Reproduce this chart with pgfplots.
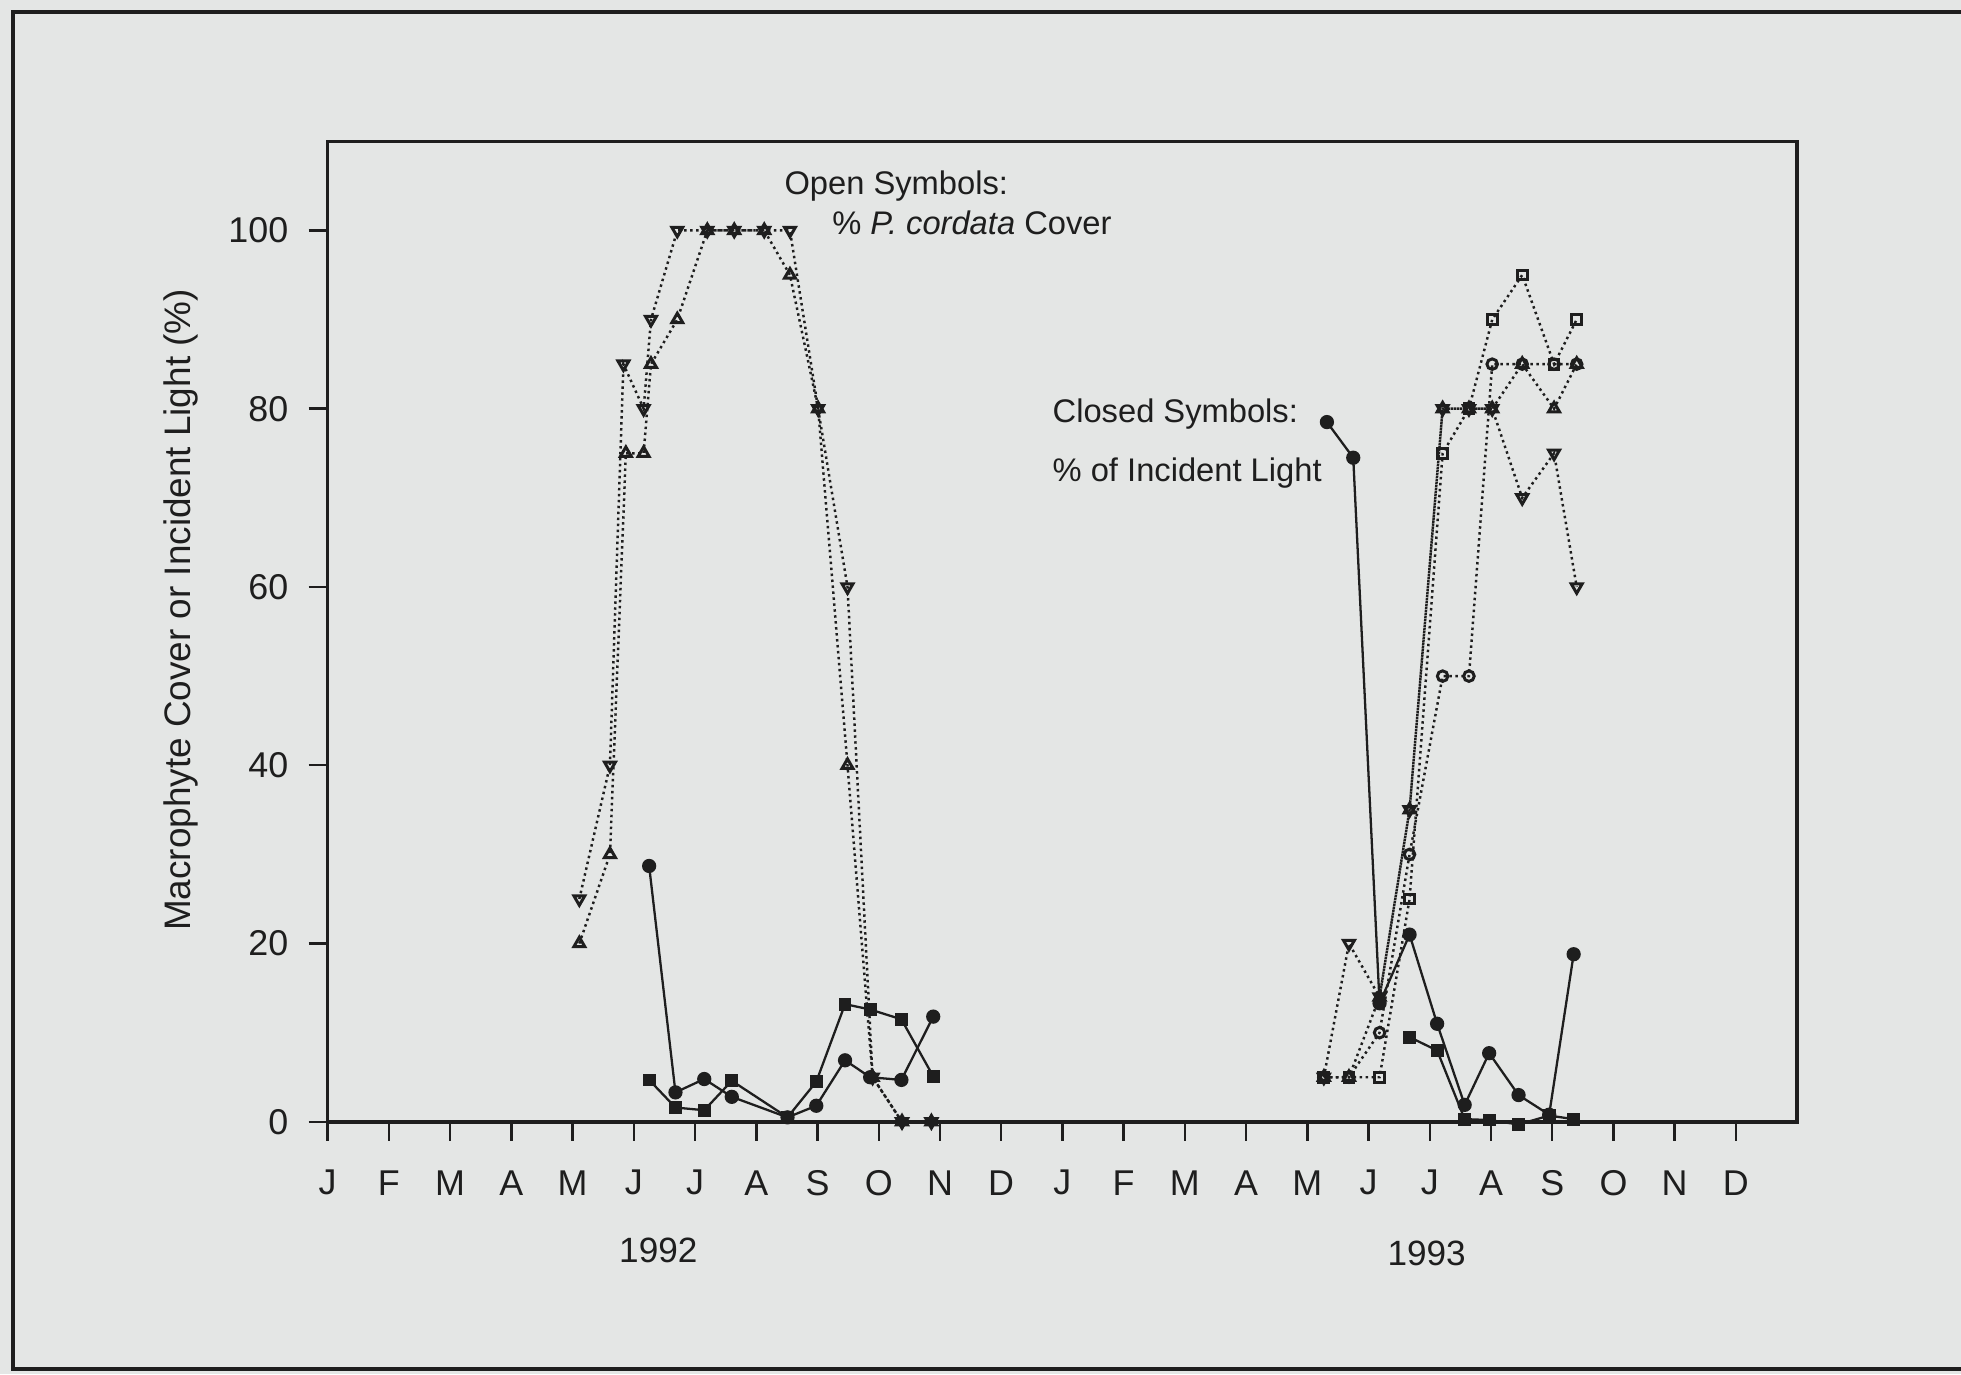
\documentclass[border=0pt]{standalone}
\usepackage{fontspec}
\setmainfont{Liberation Sans}
\usepackage{pgfplots}
\pgfplotsset{compat=1.18}
\usepackage{pgfplotstable}
\definecolor{bg}{RGB}{228,230,229}
\definecolor{ink}{RGB}{30,30,30}

% 1992 open symbols (% P. cordata cover)
\pgfplotstableread{
x y
4.11 25
4.61 40
4.83 85
5.16 80
5.28 90
5.71 100
6.20 100
6.64 100
7.13 100
7.55 100
8.01 80
8.49 60
8.90 5
9.38 0
9.86 0
}\downA
\pgfplotstableread{
x y
4.11 20
4.61 30
4.87 75
5.16 75
5.28 85
5.71 90
6.20 100
6.64 100
7.13 100
7.55 95
8.01 80
8.49 40
8.90 5
9.38 0
9.86 0
}\upA
% 1992 closed symbols (% incident light)
\pgfplotstableread{
x y
5.25 28.7
5.68 3.3
6.15 4.8
6.60 2.8
7.51 0.5
7.98 1.8
8.45 6.9
8.86 5.0
9.37 4.7
9.89 11.8
}\circA
\pgfplotstableread{
x y
5.25 4.7
5.68 1.6
6.15 1.3
6.60 4.6
7.51 0.5
7.98 4.5
8.45 13.2
8.86 12.6
9.37 11.5
9.89 5.1
}\sqA
% 1993 open symbols
\pgfplotstableread{
x y
16.27 5
16.68 5
17.18 5
17.67 25
18.21 75
18.64 80
19.02 90
19.51 95
20.03 85
20.40 90
}\sqOB
\pgfplotstableread{
x y
16.27 5
16.68 5
17.18 10
17.67 30
18.21 50
18.64 50
19.02 85
19.51 85
20.03 85
20.40 85
}\circOB
\pgfplotstableread{
x y
16.27 5
16.68 5
17.18 14
17.67 35
18.21 80
18.64 80
19.02 80
19.51 85
20.03 80
20.40 85
}\upB
\pgfplotstableread{
x y
16.27 5
16.68 20
17.18 14
17.67 35
18.21 80
18.64 80
19.02 80
19.51 70
20.03 75
20.40 60
}\downB
% 1993 closed symbols
\pgfplotstableread{
x y
16.32 78.5
16.75 74.5
17.18 13.3
17.67 21.0
18.12 11.0
18.57 1.9
18.97 7.7
19.45 3.0
19.95 0.8
20.35 18.8
}\circB
\pgfplotstableread{
x y
17.67 9.5
18.12 8.0
18.57 0.3
18.97 0.2
19.45 -0.3
19.95 0.7
20.35 0.3
}\sqB

\begin{document}
\begin{tikzpicture}
\useasboundingbox (0,0) rectangle (19.61cm,13.74cm);
\fill[bg] (0,0) rectangle (19.61cm,13.74cm);
\draw[ink,line width=1.1pt] (19.61cm,13.62cm) -- (0.13cm,13.62cm) -- (0.13cm,0.05cm) -- (19.61cm,0.05cm);
\begin{axis}[
  at={(3.277cm,2.522cm)}, anchor=south west,
  width=14.694cm, height=9.805cm, scale only axis,
  xmin=0, xmax=24, ymin=0, ymax=110,
  clip=false,
  axis line style={ink,line width=1pt},
  xtick={0,...,23},
  xticklabels={J,F,M,A,M,J,J,A,S,O,N,D,J,F,M,A,M,J,J,A,S,O,N,D},
  ytick={0,20,40,60,80,100},
  xtick pos=left, ytick pos=left,
  tick align=outside,
  major tick length=0.19cm,
  tick style={ink,line width=0.7pt},
  /pgf/number format/assume math mode=true,
  tick label style={font=\fontsize{10.2}{12}\selectfont, text=ink},
  xticklabel style={anchor=center, yshift=-0.42cm},
  yticklabel style={anchor=east, xshift=-0.08cm},
  ylabel={Macrophyte Cover or Incident Light (\%)},
  ylabel style={at={(axis description cs:-0.100,0.522)}, anchor=center, font=\fontsize{10.5}{12}\selectfont, text=ink},
  openline/.style={ink, densely dotted, line width=0.7pt},
]
% open symbols, dotted
\addplot[openline, mark=triangle, mark size=1.8pt, mark options={solid, rotate=180, fill=bg, line width=0.85pt}] table[x=x,y=y]{\downA};
\addplot[openline, mark=triangle, mark size=1.8pt, mark options={solid, fill=bg, line width=0.85pt}] table[x=x,y=y]{\upA};
\addplot[openline, mark=square, mark size=1.4pt, mark options={solid, fill=bg, line width=0.85pt}] table[x=x,y=y]{\sqOB};
\addplot[openline, mark=o, mark size=1.5pt, mark options={solid, fill=bg, line width=0.85pt}] table[x=x,y=y]{\circOB};
\addplot[openline, mark=triangle, mark size=1.8pt, mark options={solid, fill=bg, line width=0.85pt}] table[x=x,y=y]{\upB};
\addplot[openline, mark=triangle, mark size=1.8pt, mark options={solid, rotate=180, fill=bg, line width=0.85pt}] table[x=x,y=y]{\downB};
% closed symbols, solid
\addplot[ink, line width=0.65pt, mark=*, mark size=1.7pt, mark options={fill=ink}] table[x=x,y=y]{\circA};
\addplot[ink, line width=0.65pt, mark=square*, mark size=1.5pt, mark options={fill=ink}] table[x=x,y=y]{\sqA};
\addplot[ink, line width=0.65pt, mark=*, mark size=1.7pt, mark options={fill=ink}] table[x=x,y=y]{\circB};
\addplot[ink, line width=0.65pt, mark=square*, mark size=1.5pt, mark options={fill=ink}] table[x=x,y=y]{\sqB};
% annotations
\node[anchor=west, text=ink, font=\fontsize{9.3}{11}\selectfont, inner sep=0pt] at (axis cs:7.45,105) {Open Symbols:};
\node[anchor=west, text=ink, font=\fontsize{9.3}{11}\selectfont, inner sep=0pt] at (axis cs:8.23,100.8) {\% \textit{P. cordata} Cover};
\node[anchor=west, text=ink, font=\fontsize{9.3}{11}\selectfont, inner sep=0pt] at (axis cs:11.83,79.4) {Closed Symbols:};
\node[anchor=west, text=ink, font=\fontsize{9.3}{11}\selectfont, inner sep=0pt] at (axis cs:11.83,72.8) {\% of Incident Light};
\node[anchor=center, text=ink, font=\fontsize{10}{12}\selectfont, inner sep=0pt] at (axis cs:5.40,-14.4) {1992};
\node[anchor=center, text=ink, font=\fontsize{10}{12}\selectfont, inner sep=0pt] at (axis cs:17.95,-14.8) {1993};
\end{axis}
\end{tikzpicture}
\end{document}
